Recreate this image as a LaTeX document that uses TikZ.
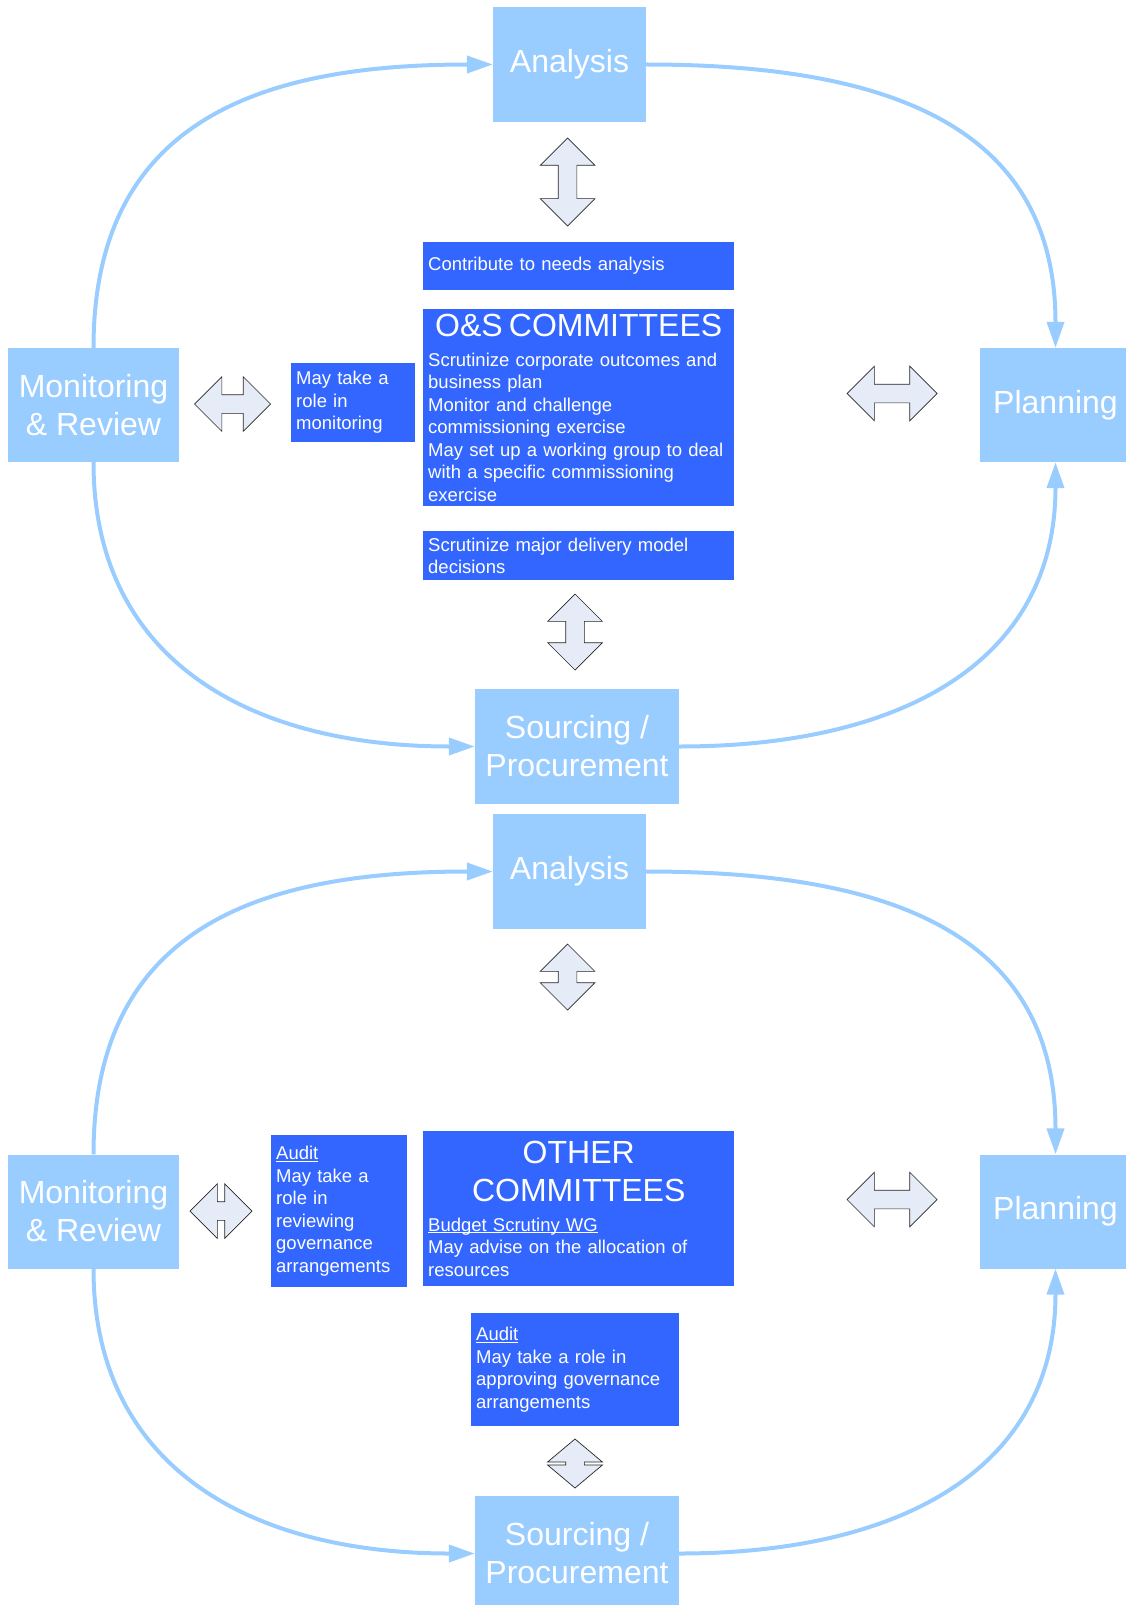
\documentclass[tikz,border=0pt]{standalone}
\usepackage{fontspec}
\setmainfont{Liberation Sans}
\usetikzlibrary{arrows.meta,shapes.arrows}

\definecolor{stageblue}{HTML}{99CCFF}
\definecolor{noteblue}{HTML}{3366FF}
\definecolor{arrowfill}{HTML}{E6ECF7}

\newcommand{\stagefont}{\fontsize{32}{38}\selectfont}
\newcommand{\notefont}{\fontsize{18.5}{22.5}\selectfont}
\newcommand{\undertext}[1]{\leavevmode\setbox0\hbox{#1}\rlap{\rule[-2.2pt]{\wd0}{1.2pt}}\box0}

\begin{document}
\begin{tikzpicture}[x=1pt, y=-1pt,
        stage/.style={fill=stageblue, text=white, font=\stagefont, align=center, inner sep=0pt, minimum height=115pt},
        note/.style={fill=noteblue, text=white, font=\notefont, align=left, inner xsep=5pt, inner ysep=0pt, anchor=north west},
        twoway/.style={double arrow, draw=black!85, fill=arrowfill, line width=0.7pt, inner xsep=0pt, inner ysep=9pt,
            minimum width=54pt, double arrow head extend=18pt, double arrow tip angle=90},
        cycle_line/.style={draw=stageblue, line width=4pt, -{Triangle[length=26pt,width=17pt]}}
    ]
    \useasboundingbox (0,0) rectangle (1125,1605);

    % Upper cycle
    \node[stage, minimum width=153pt] (ana1) at (569.5,64.5) {Analysis};
    \node[stage, minimum width=171pt, minimum height=114pt] (mon1) at (93.5,405) {Monitoring\\\& Review};
    \node[stage, minimum width=151pt, minimum height=114pt] (pla1) at (1055.5,405) {Planning};
    \node[stage, minimum width=204pt] (sou1) at (577,746.5) {Sourcing /\\Procurement};

    \draw[cycle_line] (mon1.north) .. controls +(0,-227) and +(-233,0) .. (ana1.west);
    \draw[cycle_line] (ana1.east) .. controls +(233,0) and +(0,-227) .. (pla1.north);
    \draw[cycle_line] (mon1.south) .. controls +(0,198) and +(-225,0) .. (sou1.west);
    \draw[cycle_line] (sou1.east) .. controls +(225,0) and +(0,198) .. (pla1.south);

    % O&S committees
    \node[note, text width=301pt, minimum height=48pt] (need1) at (423,242) {Contribute to needs analysis};
    \node[note, text width=301pt, minimum height=197pt] (os1) at (423,309) {%
        {\centering\stagefont O\&S COMMITTEES\par}\vspace{7pt}
        Scrutinize corporate outcomes and\\business plan\\Monitor and challenge\\commissioning exercise\\
        May set up a working group to deal\\with a specific commissioning\\exercise};
    \node[note, text width=114pt, minimum height=79pt] (role1) at (291,363) {May take a\\role in\\monitoring};
    \node[note, text width=301pt, minimum height=49pt] (deliv1) at (423,531) {Scrutinize major delivery model\\decisions};

    \node[twoway, rotate=90, minimum height=88pt] (dA1) at (567.5,182) {};
    \node[twoway, rotate=90, minimum height=76pt] (dA2) at (575,632) {};
    \node[twoway, minimum height=76pt] (dL1) at (232.5,404) {};
    \node[twoway, minimum height=90pt] (dR1) at (892,393.5) {};

    % Lower cycle
    \node[stage, minimum width=153pt] (ana2) at (569.5,871.5) {Analysis};
    \node[stage, minimum width=171pt, minimum height=114pt] (mon2) at (93.5,1211.5) {Monitoring\\\& Review};
    \node[stage, minimum width=151pt, minimum height=114pt] (pla2) at (1055.5,1211.5) {Planning};
    \node[stage, minimum width=204pt] (sou2) at (577,1553.5) {Sourcing /\\Procurement};

    \draw[cycle_line] (mon2.north) .. controls +(0,-227) and +(-233,0) .. (ana2.west);
    \draw[cycle_line] (ana2.east) .. controls +(233,0) and +(0,-227) .. (pla2.north);
    \draw[cycle_line] (mon2.south) .. controls +(0,198) and +(-225,0) .. (sou2.west);
    \draw[cycle_line] (sou2.east) .. controls +(225,0) and +(0,198) .. (pla2.south);

    % Other committees
    \node[note, text width=301pt, minimum height=155pt] (other2) at (423,1131) {%
        {\centering\stagefont OTHER\\COMMITTEES\par}\vspace{7pt}
        \undertext{Budget Scrutiny WG}\\May advise on the allocation of\\resources};
    \node[note, text width=126pt, minimum height=152pt] (audit2) at (271,1135) {%
        \undertext{Audit}\\May take a\\role in\\reviewing\\governance\\arrangements};
    \node[note, text width=198pt, minimum height=113pt] (audit3) at (471,1313) {%
        \undertext{Audit}\\May take a role in\\approving governance\\arrangements};

    \node[twoway, rotate=90, minimum height=66pt] (dA3) at (567.5,977) {};
    \node[twoway, rotate=90, minimum height=49pt, double arrow tip angle=100] (dA4) at (575,1463.5) {};
    \node[twoway, minimum height=62pt] (dL2) at (221,1211) {};
    \node[twoway, minimum height=90pt] (dR2) at (892,1199.5) {};
\end{tikzpicture}
\end{document}
